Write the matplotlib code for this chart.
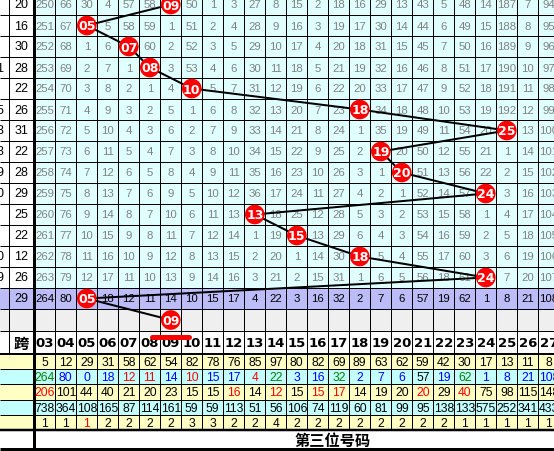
import matplotlib.pyplot as plt
from matplotlib.patches import Rectangle

# ---- data ----
col_labels = ['03', '04', '05', '06', '07', '08', '09', '10', '11', '12', '13', '14', '15',
              '16', '17', '18', '19', '20', '21', '22', '23', '24', '25', '26', '27']

span_vals = [20, 16, 30, 28, 22, 26, 31, 22, 28, 29, 25, 22, 12, 26, 29]
left_tail = ['', '', '', '1', '', '5', '3', '3', '9', '0', '', '', '0', '9', '']

# omission table, 0 = number drawn (ball)
r00 = [250, 66, 30, 4, 57, 58, 0, 50, 1, 3, 27, 8, 15, 2, 18, 16, 29, 13, 43, 5, 48, 14, 187, 7, 94]
r01 = [251, 67, 0, 5, 58, 59, 1, 51, 2, 4, 28, 9, 16, 3, 19, 17, 30, 14, 44, 6, 49, 15, 188, 8, 95]
r02 = [252, 68, 1, 6, 0, 60, 2, 52, 3, 5, 29, 10, 17, 4, 20, 18, 31, 15, 45, 7, 50, 16, 189, 9, 96]
r03 = [253, 69, 2, 7, 1, 0, 3, 53, 4, 6, 30, 11, 18, 5, 21, 19, 32, 16, 46, 8, 51, 17, 190, 10, 97]
r04 = [254, 70, 3, 8, 2, 1, 4, 0, 5, 7, 31, 12, 19, 6, 22, 20, 33, 17, 47, 9, 52, 18, 191, 11, 98]
r05 = [255, 71, 4, 9, 3, 2, 5, 1, 6, 8, 32, 13, 20, 7, 23, 0, 34, 18, 48, 10, 53, 19, 192, 12, 99]
r06 = [256, 72, 5, 10, 4, 3, 6, 2, 7, 9, 33, 14, 21, 8, 24, 1, 35, 19, 49, 11, 54, 20, 0, 13, 100]
r07 = [257, 73, 6, 11, 5, 4, 7, 3, 8, 10, 34, 15, 22, 9, 25, 2, 0, 20, 50, 12, 55, 21, 1, 14, 101]
r08 = [258, 74, 7, 12, 6, 5, 8, 4, 9, 11, 35, 16, 23, 10, 26, 3, 1, 0, 51, 13, 56, 22, 2, 15, 102]
r09 = [259, 75, 8, 13, 7, 6, 9, 5, 10, 12, 36, 17, 24, 11, 27, 4, 2, 1, 52, 14, 57, 0, 3, 16, 103]
r10 = [260, 76, 9, 14, 8, 7, 10, 6, 11, 13, 0, 18, 25, 12, 28, 5, 3, 2, 53, 15, 58, 1, 4, 17, 104]
r11 = [261, 77, 10, 15, 9, 8, 11, 7, 12, 14, 1, 19, 0, 13, 29, 6, 4, 3, 54, 16, 59, 2, 5, 18, 105]
r12 = [262, 78, 11, 16, 10, 9, 12, 8, 13, 15, 2, 20, 1, 14, 30, 0, 5, 4, 55, 17, 60, 3, 6, 19, 106]
r13 = [263, 79, 12, 17, 11, 10, 13, 9, 14, 16, 3, 21, 2, 15, 31, 1, 6, 5, 56, 18, 61, 0, 7, 20, 107]
r14 = [264, 80, 0, 18, 12, 11, 14, 10, 15, 17, 4, 22, 3, 16, 32, 2, 7, 6, 57, 19, 62, 1, 8, 21, 108]
table = [r00, r01, r02, r03, r04, r05, r06, r07, r08, r09, r10, r11, r12, r13, r14]

next_pick = '09'

# stats rows
st0 = [5, 12, 29, 31, 58, 62, 54, 82, 78, 76, 85, 97, 80, 82, 69, 89, 63, 62, 59, 42, 30, 17, 13, 11, 8]
st1 = [264, 80, 0, 18, 12, 11, 14, 10, 15, 17, 4, 22, 3, 16, 32, 2, 7, 6, 57, 19, 62, 1, 8, 21, 108]
st2 = [206, 101, 44, 40, 21, 20, 23, 15, 15, 16, 14, 12, 15, 15, 17, 14, 19, 20, 20, 29, 40, 75, 98, 115, 148]
st3 = [738, 364, 108, 165, 87, 114, 161, 59, 59, 113, 51, 56, 106, 74, 119, 60, 81, 99, 95, 138, 133, 575, 252, 341, 433]
st4 = [1, 1, 1, 2, 2, 2, 2, 3, 3, 2, 2, 4, 2, 2, 2, 2, 2, 2, 2, 2, 1, 1, 1, 1, 1]
# colour codes: k black, g green, b blue, r red
st0_c = 'k' * 25
st1_c = 'gbbbrrbrbbrgbbgbbbkbgbbbb'
st2_c = 'rkkkkkkkkrkrkrrkkkrkrkkkk'
st3_c = 'k' * 25
st4_c = 'kkr' + 'k' * 22
stats = [(st0, st0_c), (st1, st1_c), (st2, st2_c), (st3, st3_c), (st4, st4_c)]

footer = '第三位号码'
span_head = '跨'

# ---- layout (pixels) ----
W, H = 554, 452
XA, XSEP, X0, CW = 9.3, 33.8, 34.3, 21.0
Y0, RH = -5.0, 21.0
GREY_T, HEAD_T, STAT_T, STAT_H = 310.0, 332.0, 355.0, 15.2
FOOT_T, FOOT_B = 431.0, 450.0

cmap = {'k': 'black', 'g': '#008000', 'b': '#0000ff', 'r': '#ff0000'}
cell_bg = '#e0ffff'
purple = '#bcbcf8'
grey = '#efefef'
yel = '#ffffc4'
cyan = '#c4ffff'
num_font = 'Liberation Sans'
cjk = ['Noto Sans CJK SC', 'DejaVu Sans']
px = 0.72  # 1 pixel in points


def cx(i):
    return X0 + (i + 0.5) * CW


def cy(r):
    return Y0 + (r + 0.5) * RH


fig = plt.figure(figsize=(W / 100, H / 100), dpi=100)
ax = fig.add_axes([0, 0, 1, 1])
ax.set_xlim(0, W)
ax.set_ylim(H, 0)
ax.axis('off')

nrow = len(table)

# backgrounds
for r in range(nrow):
    top = Y0 + r * RH
    if r == nrow - 1:
        ax.add_patch(Rectangle((0, top), W, RH, color=purple, lw=0, zorder=0))
    else:
        ax.add_patch(Rectangle((X0, top), W - X0, RH, color=cell_bg, lw=0, zorder=0))
ax.add_patch(Rectangle((0, GREY_T), W, HEAD_T - GREY_T, color=grey, lw=0, zorder=0))
for k in range(5):
    ax.add_patch(Rectangle((0, STAT_T + k * STAT_H), W, STAT_H,
                           color=yel if k % 2 == 0 else cyan, lw=0, zorder=0))

# grid
for k in range(1, nrow + 1):
    ax.hlines(Y0 + k * RH, 0, W, color='black', lw=px, zorder=1)
ax.hlines(HEAD_T, 0, W, color='black', lw=px, zorder=1)
ax.hlines(STAT_T, 0, W, color='black', lw=2 * px, zorder=1)
for k in range(1, 5):
    ax.hlines(STAT_T + k * STAT_H, 0, W, color='black', lw=px, zorder=1)
ax.hlines(FOOT_T, 0, W, color='black', lw=2.5 * px, zorder=1)
ax.hlines(FOOT_B, 0, W, color='black', lw=3 * px, zorder=1)
for k in range(1, len(col_labels)):
    ax.vlines(X0 + k * CW, 0, FOOT_T, color='black', lw=px, zorder=1)
ax.vlines(XA, 0, STAT_T, color='black', lw=px, zorder=1)
ax.vlines(XSEP, 0, H, color='black', lw=3 * px, zorder=1)

# table numbers
for r, row in enumerate(table):
    tcol = 'black' if r == nrow - 1 else '#808080'
    for i, v in enumerate(row):
        if v != 0:
            ax.text(cx(i), cy(r), str(v), ha='center', va='center', fontsize=8.2,
                    family=num_font, color=tcol, zorder=2)
    ax.text((XA + XSEP) / 2, cy(r), str(span_vals[r]), ha='center', va='center',
            fontsize=9, family=num_font, color='black', zorder=2)
    if left_tail[r]:
        ax.text(3.5, cy(r), left_tail[r], ha='right', va='center', fontsize=9,
                family=num_font, color='black', zorder=2)

# ball path
bx, by, bl = [], [], []
for r, row in enumerate(table):
    i = row.index(0)
    bx.append(cx(i))
    by.append(cy(r))
    bl.append(col_labels[i])
ni = col_labels.index(next_pick)
bx.append(cx(ni))
by.append((GREY_T + HEAD_T) / 2)
bl.append(next_pick)

ax.plot(bx, by, color='black', lw=2 * px, zorder=3)
ax.scatter(bx, by, s=200, color='#ff0000', edgecolors='none', zorder=4)
for x, y, t in zip(bx, by, bl):
    ax.text(x, y + 0.5, t, ha='center', va='center', fontsize=9, weight='bold',
            family='DejaVu Sans', color='white', zorder=5)

# header
hy = (HEAD_T + STAT_T) / 2
for i, lab in enumerate(col_labels):
    ax.text(cx(i), hy + 0.5, lab, ha='center', va='center', fontsize=9.5, weight='bold',
            family='DejaVu Sans', color='black', zorder=2)
ax.text((XA + XSEP) / 2, hy, span_head, ha='center', va='center', fontsize=11,
        weight='bold', family=cjk, color='black', zorder=2)
ax.plot([cx(ni - 1) + 2, cx(ni + 1) - 3], [HEAD_T + 5.5, HEAD_T + 5.5], color='#ff0000',
        lw=5 * px, solid_capstyle='round', zorder=3)

# stats rows
for k, (vals, codes) in enumerate(stats):
    y = STAT_T + (k + 0.5) * STAT_H
    for i, v in enumerate(vals):
        ax.text(cx(i), y + 0.5, str(v), ha='center', va='center', fontsize=8.7,
                family=num_font, color=cmap[codes[i]], zorder=2)

# footer
ax.text(cx(14) - 6, (FOOT_T + FOOT_B) / 2, footer, ha='center', va='center', fontsize=11,
        weight='bold', family=cjk, color='black', zorder=2)

fig.savefig('out.png', dpi=100)
